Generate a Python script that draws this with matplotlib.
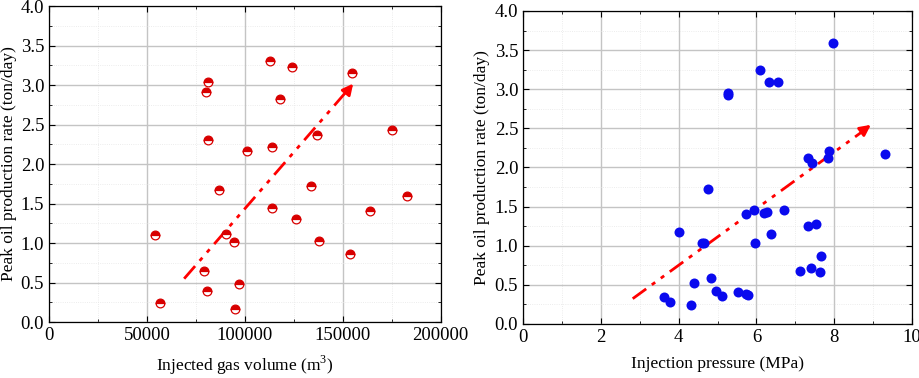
import numpy as np
from matplotlib import pyplot as plt
from matplotlib.ticker import AutoMinorLocator

plt.rcParams['font.family'] = ['Liberation Serif', 'DejaVu Serif']
plt.rcParams['mathtext.fontset'] = 'custom'
plt.rcParams['mathtext.rm'] = 'Liberation Serif'

# left panel: gas volume vs peak rate
gas_vol = [54200, 56900, 78900, 80600, 80100, 81400, 81400, 86700, 90300, 94200,
           94900, 96800, 100900, 112900, 114000, 114000, 117900, 124000, 125900,
           133900, 137000, 137800, 153800, 154900, 163900, 175000, 182800]
rate_a = [1.10, 0.236, 0.646, 0.392, 2.907, 3.038, 2.30, 1.667, 1.11, 1.008,
          0.165, 0.477, 2.169, 3.308, 2.219, 1.447, 2.819, 3.228, 1.308,
          1.722, 2.367, 1.021, 0.865, 3.156, 1.409, 2.426, 1.591]
arrow_a = [(69000, 0.549), (156200, 3.046)]

# right panel: injection pressure vs peak rate
press = [3.62, 3.78, 4.02, 4.33, 4.40, 4.60, 4.64, 4.76, 4.82, 4.96, 5.11,
         5.27, 5.28, 5.53, 5.74, 5.79, 5.72, 5.94, 5.96, 6.09, 6.20, 6.26,
         6.33, 6.38, 6.56, 6.70, 7.11, 7.32, 7.33, 7.40, 7.43, 7.53, 7.64,
         7.65, 7.83, 7.87, 7.96, 9.30]
rate_b = [0.340, 0.277, 1.170, 0.247, 0.528, 1.030, 1.030, 1.728, 0.583, 0.417,
          0.362, 2.92, 2.95, 0.413, 0.379, 0.366, 1.409, 1.460, 1.038, 3.247,
          1.417, 1.434, 3.098, 1.145, 3.098, 1.451, 0.681, 1.255, 2.123, 0.711,
          2.051, 1.277, 0.660, 0.868, 2.123, 2.204, 3.596, 2.170]
arrow_b = [(2.82, 0.323), (9.0, 2.566)]

fig = plt.figure(figsize=(9.2, 3.78), dpi=100)
ax1 = fig.add_axes([0.0533, 0.148, 0.4257, 0.836])
ax2 = fig.add_axes([0.5685, 0.143, 0.4228, 0.828])

dashdotdot = (0, (6, 2.5, 1.5, 2.5, 1.5, 2.5))

def style(ax):
    ax.xaxis.set_minor_locator(AutoMinorLocator(2))
    ax.yaxis.set_minor_locator(AutoMinorLocator(2))
    ax.grid(which='major', color='#c4c4c4', lw=1.0)
    ax.grid(which='minor', color='#e6e6e6', lw=0.6, ls=':')
    ax.set_axisbelow(True)
    ax.tick_params(which='both', direction='in', top=True, right=True,
                   labelsize=13.5, colors='black')
    ax.tick_params(which='major', length=4, width=0.8)
    ax.tick_params(which='minor', length=2.5, width=0.6)
    for s in ax.spines.values():
        s.set_linewidth(0.9)
    ax.set_ylim(0, 4.0)
    ax.set_yticks(np.arange(0, 4.01, 0.5))
    ax.set_yticklabels(['%.1f' % v for v in np.arange(0, 4.01, 0.5)])
    ax.set_ylabel('Peak oil production rate (ton/day)', fontsize=12.5, labelpad=3)

style(ax1)
ax1.set_xlim(0, 200000)
ax1.set_xticks([0, 50000, 100000, 150000, 200000])
ax1.set_xticklabels(['0', '50000', '100000', '150000', '200000'])
ax1.set_xlabel(r'Injected gas volume (m$^3$)', fontsize=12.5, labelpad=7)
ax1.plot(gas_vol, rate_a, ls='none', marker='o', ms=6.3, fillstyle='top',
         markerfacecolor='#d80000', markerfacecoloralt='white',
         markeredgecolor='#d80000', markeredgewidth=0.9, zorder=3)
(x0, y0), (x1, y1) = arrow_a
ax1.plot([x0, x1 - 3000], [y0, y1 - 0.09], color='red', lw=2, ls=dashdotdot, zorder=2)
ax1.annotate('', xy=(x1, y1), xytext=(x1 - 4500, y1 - 0.14),
             arrowprops=dict(arrowstyle='-|>', color='red', lw=2, mutation_scale=16))

style(ax2)
ax2.set_xlim(0, 10)
ax2.set_xticks([0, 2, 4, 6, 8, 10])
ax2.set_xlabel('Injection pressure (MPa)', fontsize=12.5, labelpad=7)
ax2.plot(press, rate_b, ls='none', marker='o', ms=7.2, color='#0a0aee',
         markeredgewidth=0, zorder=3)
(x0, y0), (x1, y1) = arrow_b
ax2.plot([x0, x1 - 0.2], [y0, y1 - 0.08], color='red', lw=2, ls=dashdotdot, zorder=2)
ax2.annotate('', xy=(x1, y1), xytext=(x1 - 0.3, y1 - 0.11),
             arrowprops=dict(arrowstyle='-|>', color='red', lw=2, mutation_scale=16))

plt.savefig('out.png', dpi=100)
